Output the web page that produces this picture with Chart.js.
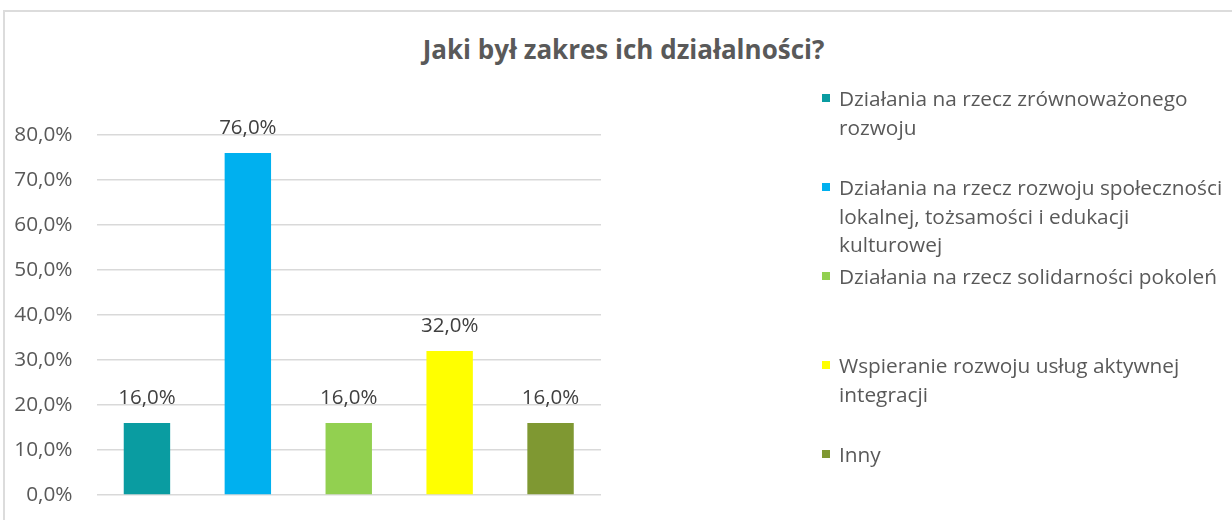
<!DOCTYPE html>
<html>
<head>
<meta charset="utf-8">
<script src="https://cdn.jsdelivr.net/npm/chart.js@4.4.1/dist/chart.umd.min.js"></script>
<style>
  html, body { margin: 0; padding: 0; background: #fff; }
  body { width: 1232px; height: 520px; position: relative; overflow: hidden; font-family: 'Open Sans', sans-serif; }
  #frame { position: absolute; left: 3px; top: 10px; width: 1240px; height: 520px; border: 2px solid #dcdcdc; box-sizing: border-box; }
  #title { position: absolute; left: 0; width: 1247px; top: 31px; text-align: center; font-weight: bold; font-size: 26px; color: #595959; }
  #chart { position: absolute; left: 0; top: 0; }
  #legend { position: absolute; left: 822px; top: 0; }
  .item { position: absolute; left: 0; width: 410px; font-size: 20.8px; line-height: 28.7px; color: #595959; }
  .item i { position: absolute; left: 0; top: 10px; width: 8px; height: 8px; }
  .item span { display: block; margin-left: 17px; white-space: nowrap; }
</style>
</head>
<body>
<div id="frame"></div>
<div id="title">Jaki był zakres ich działalności?</div>
<canvas id="chart" width="1232" height="520"></canvas>
<div id="legend"></div>
<script>
const categories = [
  ['Działania na rzecz zrównoważonego', 'rozwoju'],
  ['Działania na rzecz rozwoju społeczności', 'lokalnej, tożsamości i edukacji', 'kulturowej'],
  ['Działania na rzecz solidarności pokoleń'],
  ['Wspieranie rozwoju usług aktywnej', 'integracji'],
  ['Inny'],
]
const values = [16, 76, 16, 32, 16]
const colors = ['#0a9ca1', '#00b0ef', '#92d050', '#ffff00', '#7f9832']
const yTicks = [0, 10, 20, 30, 40, 50, 60, 70, 80]

const FONT = '"Open Sans", sans-serif'
const fmt = v => v.toFixed(1).replace('.', ',') + '%'

const valueLabels = {
  id: 'valueLabels',
  afterDatasetsDraw(chart) {
    const ctx = chart.ctx
    const meta = chart.getDatasetMeta(0)
    ctx.save()
    ctx.font = '20.5px ' + FONT
    ctx.fillStyle = '#404040'
    ctx.textAlign = 'center'
    ctx.textBaseline = 'middle'
    meta.data.forEach((bar, i) => {
      ctx.fillText(fmt(values[i]), bar.x, bar.y - 25)
    })
    ctx.restore()
  },
}

new Chart(document.getElementById('chart'), {
  type: 'bar',
  data: {
    labels: categories.map(c => c.join(' ')),
    datasets: [{
      data: values,
      backgroundColor: colors,
      categoryPercentage: 1,
      barPercentage: 0.46,
    }],
  },
  options: {
    responsive: false,
    animation: false,
    layout: { padding: { left: 0, right: 631, top: 135, bottom: 25 } },
    plugins: { legend: { display: false }, tooltip: { enabled: false } },
    scales: {
      x: { display: false },
      y: {
        min: 0, max: 80,
        afterFit(scale) {
          scale.width = 96.5
          scale.paddingTop = 0
          scale.paddingBottom = 0
        },
        afterBuildTicks(scale) { scale.ticks = yTicks.map(v => ({ value: v })) },
        ticks: {
          color: '#595959',
          padding: 24,
          font: { family: FONT, size: 20.8 },
          callback: v => fmt(v),
        },
        grid: { color: '#d9d9d9', lineWidth: 1.5, drawTicks: false },
        border: { display: false },
      },
    },
  },
  plugins: [valueLabels],
})

const legend = document.getElementById('legend')
categories.forEach((lines, i) => {
  const item = document.createElement('div')
  item.className = 'item'
  item.style.top = (84 + i * 89) + 'px'
  item.innerHTML = '<i style="background:' + colors[i] + '"></i>' +
    lines.map(l => '<span>' + l + '</span>').join('')
  legend.appendChild(item)
})
</script>
</body>
</html>
